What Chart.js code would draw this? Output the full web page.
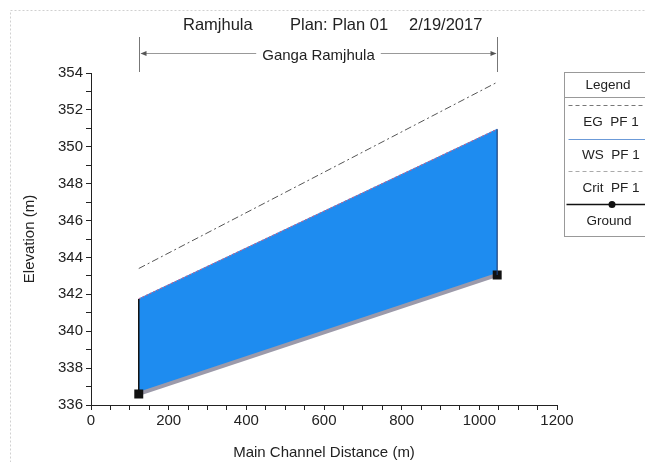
<!DOCTYPE html>
<html>
<head>
<meta charset="utf-8">
<script src="https://cdn.jsdelivr.net/npm/chart.js@4/dist/chart.umd.min.js"></script>
<style>
  html, body { margin: 0; padding: 0; background: #fff; }
  #wrap { width: 645px; height: 462px; }
</style>
</head>
<body>
<div id="wrap"><canvas id="chart" width="645" height="462"></canvas></div>
<script>
// Data
const stations = [123, 1046];          // main channel distance (m)
const groundElev = [336.6, 343.05];
const wsElev = [341.75, 350.95];
const critElev = [341.75, 350.95];
const egElev = [343.4, 353.5];
const reachName = "Ganga Ramjhula";
const titleParts = ["Ramjhula", "Plan: Plan 01", "2/19/2017"];
const legendRows = ["EG  PF 1", "WS  PF 1", "Crit  PF 1", "Ground"];

const FONT = "'Liberation Sans', Arial, sans-serif";

function pts(ys) {
  return stations.map((x, i) => ({ x, y: ys[i] }));
}

// Titles, reach marker, legend box, outer frame
const decor = {
  id: "decor",
  afterDraw(chart) {
    const ctx = chart.ctx;
    const xs = chart.scales.x;
    ctx.save();

    // outer frame
    ctx.strokeStyle = "#d0d0d0";
    ctx.lineWidth = 1;
    ctx.setLineDash([2, 2]);
    ctx.strokeRect(10.5, 10.5, 700, 700);
    ctx.setLineDash([]);

    // title
    ctx.fillStyle = "#222";
    ctx.font = "16.5px " + FONT;
    ctx.textBaseline = "middle";
    ctx.textAlign = "left";
    ctx.fillText(titleParts[0], 183, 25);
    ctx.fillText(titleParts[1], 290, 25);
    ctx.fillText(titleParts[2], 409, 25);

    // reach marker
    const x0 = Math.round(xs.getPixelForValue(stations[0])) + 0.5;
    const x1 = Math.round(xs.getPixelForValue(stations[stations.length - 1])) + 0.5;
    const ry = 53.5;
    ctx.strokeStyle = "#777";
    ctx.lineWidth = 1;
    ctx.beginPath();
    ctx.moveTo(x0, 37); ctx.lineTo(x0, 72);
    ctx.moveTo(x1, 37); ctx.lineTo(x1, 72);
    ctx.stroke();
    ctx.fillStyle = "#222";
    ctx.font = "15px " + FONT;
    ctx.textAlign = "center";
    const cx = (x0 + x1) / 2;
    const tw = ctx.measureText(reachName).width;
    ctx.fillText(reachName, cx, ry + 2);
    ctx.strokeStyle = "#999";
    ctx.beginPath();
    ctx.moveTo(x0 + 2, ry); ctx.lineTo(cx - tw / 2 - 6, ry);
    ctx.moveTo(cx + tw / 2 + 6, ry); ctx.lineTo(x1 - 2, ry);
    ctx.stroke();
    ctx.fillStyle = "#555";
    ctx.beginPath();
    ctx.moveTo(x0 + 1, ry); ctx.lineTo(x0 + 7, ry - 2.5); ctx.lineTo(x0 + 7, ry + 2.5); ctx.fill();
    ctx.beginPath();
    ctx.moveTo(x1 - 1, ry); ctx.lineTo(x1 - 7, ry - 2.5); ctx.lineTo(x1 - 7, ry + 2.5); ctx.fill();

    // legend box
    const lx = 564.5, ly = 72.5, lw = 100, lh = 164;
    ctx.strokeStyle = "#999";
    ctx.strokeRect(lx, ly, lw, lh);
    ctx.beginPath();
    ctx.moveTo(lx, 97.5); ctx.lineTo(lx + lw, 97.5);
    ctx.stroke();
    ctx.fillStyle = "#222";
    ctx.font = "13.5px " + FONT;
    ctx.textAlign = "center";
    ctx.fillText("Legend", 608, 85);
    const tx = 611;
    // EG sample
    ctx.strokeStyle = "#777"; ctx.setLineDash([4, 3]);
    ctx.beginPath(); ctx.moveTo(lx + 4, 105.5); ctx.lineTo(645, 105.5); ctx.stroke();
    ctx.fillText(legendRows[0], tx, 122);
    // WS sample
    ctx.setLineDash([]); ctx.strokeStyle = "#6b9ad8";
    ctx.beginPath(); ctx.moveTo(lx + 4, 139.5); ctx.lineTo(645, 139.5); ctx.stroke();
    ctx.fillText(legendRows[1], tx, 155);
    // Crit sample
    ctx.strokeStyle = "#aaa"; ctx.setLineDash([4, 3]);
    ctx.beginPath(); ctx.moveTo(lx + 4, 171.5); ctx.lineTo(645, 171.5); ctx.stroke();
    ctx.fillText(legendRows[2], tx, 188);
    // Ground sample
    ctx.setLineDash([]); ctx.strokeStyle = "#111"; ctx.lineWidth = 1.5;
    ctx.beginPath(); ctx.moveTo(lx + 2, 204.5); ctx.lineTo(645, 204.5); ctx.stroke();
    ctx.fillStyle = "#111";
    ctx.beginPath(); ctx.arc(612, 204.5, 3.5, 0, Math.PI * 2); ctx.fill();
    ctx.fillStyle = "#222";
    ctx.fillText(legendRows[3], tx - 2, 221);

    ctx.restore();
  }
};

new Chart(document.getElementById("chart"), {
  type: "line",
  data: {
    datasets: [
      {
        label: "WS PF 1",
        data: pts(wsElev),
        borderColor: "#1e8df0",
        borderWidth: 1,
        backgroundColor: "#1e8cf0",
        fill: 1,
        pointRadius: 0,
        order: 3
      },
      {
        label: "Ground",
        data: pts(groundElev),
        borderColor: "#9c9aaa",
        borderWidth: 4,
        pointStyle: "rect",
        pointRadius: 3.5,
        pointBackgroundColor: "#111",
        pointBorderColor: "#111",
        fill: false,
        order: 2
      },
      {
        label: "Crit PF 1",
        data: pts(critElev),
        borderColor: "rgba(205,90,130,0.8)",
        borderWidth: 1.3,
        borderDash: [2, 2],
        pointRadius: 0,
        fill: false,
        order: 1
      },
      {
        label: "EG PF 1",
        data: pts(egElev),
        borderColor: "#555",
        borderWidth: 1,
        borderDash: [7, 3, 2, 3],
        pointRadius: 0,
        fill: false,
        order: 1
      },
      {
        label: "start",
        data: [{ x: stations[0], y: groundElev[0] }, { x: stations[0], y: wsElev[0] }],
        borderColor: "#111",
        borderWidth: 1.5,
        pointRadius: 0,
        fill: false,
        order: 0
      },
      {
        label: "end",
        data: [{ x: stations[1], y: groundElev[1] }, { x: stations[1], y: wsElev[1] }],
        borderColor: "#1a3f7a",
        borderWidth: 1.2,
        pointRadius: 0,
        fill: false,
        order: 0
      }
    ]
  },
  options: {
    responsive: false,
    animation: false,
    layout: { padding: { top: 73, right: 88, left: 0, bottom: 0 } },
    plugins: { legend: { display: false }, tooltip: { enabled: false } },
    scales: {
      x: {
        type: "linear",
        min: 0,
        max: 1200,
        afterFit(s) { s.height = 57; },
        border: { display: true, color: "#222", width: 1 },
        grid: { drawOnChartArea: false, drawTicks: true, tickLength: 5, color: "#222" },
        ticks: {
          stepSize: 50,
          autoSkip: false,
          maxRotation: 0,
          padding: 2,
          color: "#222",
          font: { family: FONT, size: 15 },
          callback: v => (v % 200 === 0 ? String(v) : "")
        },
        title: {
          display: true,
          text: "Main Channel Distance (m)",
          color: "#222",
          font: { family: FONT, size: 15 },
          padding: { top: 0, bottom: 0 }
        }
      },
      y: {
        min: 336,
        max: 354,
        afterFit(s) { s.width = 91; },
        border: { display: true, color: "#222", width: 1 },
        grid: { drawOnChartArea: false, drawTicks: true, tickLength: 5, color: "#222" },
        ticks: {
          stepSize: 1,
          autoSkip: false,
          padding: 3,
          color: "#222",
          font: { family: FONT, size: 15 },
          callback: v => (v % 2 === 0 ? String(v) : "")
        },
        title: {
          display: true,
          text: "Elevation (m)",
          color: "#222",
          font: { family: FONT, size: 15 },
          padding: { top: 21, bottom: 0 }
        }
      }
    }
  },
  plugins: [decor]
});
</script>
</body>
</html>
